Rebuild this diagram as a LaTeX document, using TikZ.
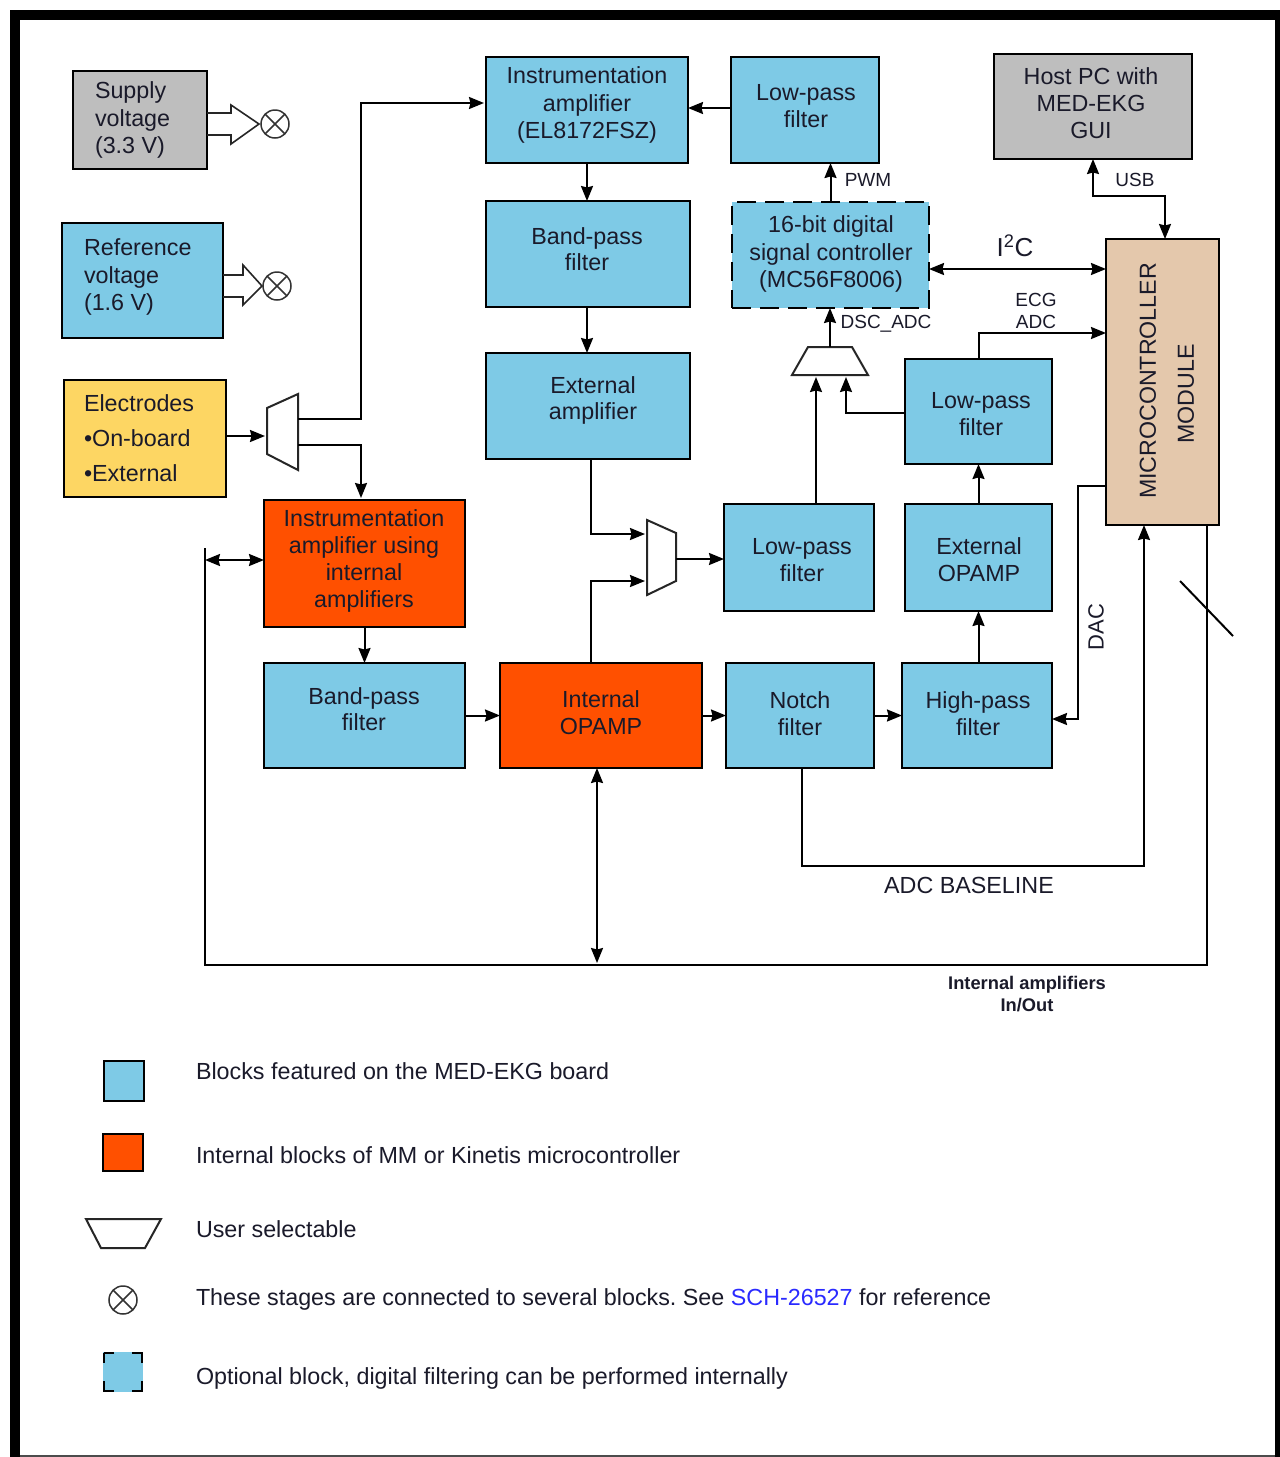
\documentclass[tikz,border=0pt]{standalone}
\usepackage{fontspec}
\setmainfont{Liberation Sans}
\usetikzlibrary{arrows.meta}
\frenchspacing
\definecolor{bblue}{HTML}{7ECAE6}
\definecolor{bgray}{HTML}{BEBEBE}
\definecolor{byellow}{HTML}{FDD663}
\definecolor{borange}{HTML}{FF5000}
\definecolor{btan}{HTML}{E4C8AC}
\definecolor{linkblue}{HTML}{2A2AFF}
\definecolor{tcol}{HTML}{1A1A2A}
\newcommand\blk[6]{%
  \pgfmathsetmacro\bw{#4-#2}\pgfmathsetmacro\bh{#5-#3}%
  \node[#6,minimum width=\bw pt,minimum height=\bh pt] (#1) at ({(#2+#4)/2},{(#3+#5)/2}) {};}
\newcommand\xring[2]{%
  \node[ringnode] (#1) at (#2) {};
  \draw[thinln] (#1.45) -- (#1.225) (#1.135) -- (#1.315);}
\tikzset{
  box/.style={rectangle,draw=black,line width=1.9pt,inner sep=0pt,outer sep=0pt},
  blue/.style={box,fill=bblue},
  gray/.style={box,fill=bgray},
  orange/.style={box,fill=borange},
  yellow/.style={box,fill=byellow},
  tan/.style={box,fill=btan},
  dashbox/.style={rectangle,draw=black,line width=2pt,fill=bblue,inner sep=0pt,outer sep=0pt,dash pattern=on 19pt off 9pt},
  txt/.style={inner sep=0pt,outer sep=0pt,text=tcol,align=center,font=\fontsize{23.3}{27.3}\selectfont},
  ltxt/.style={txt,align=left},
  small/.style={txt,font=\fontsize{19}{22}\selectfont},
  legend/.style={txt,anchor=west,align=left},
  arr/.style={line width=2pt,-{Stealth[length=15pt,width=12pt,inset=1.5pt]}},
  darr/.style={line width=2pt,{Stealth[length=15pt,width=12pt,inset=1.5pt]}-{Stealth[length=15pt,width=12pt,inset=1.5pt]}},
  ln/.style={line width=2pt},
  thinln/.style={line width=1.5pt,draw=black!80},
  mux/.style={line width=2pt,draw=black!85,fill=white,line join=miter},
  ringnode/.style={circle,draw=black!80,line width=1.5pt,minimum size=28pt,inner sep=0pt,outer sep=0pt,fill=white},
}
\begin{document}
\begin{tikzpicture}[x=1pt,y=-1pt]
\useasboundingbox (0,0) rectangle (1280,1457);
\fill[white] (0,0) rectangle (1280,1457);
% frame
\fill[black] (10,10) rectangle (1280,20);
\fill[black] (10,10) rectangle (20,1457);
\fill[black] (1275,10) rectangle (1280,1457);
\draw[black!70,line width=1.2pt] (20,1456) -- (1275,1456);
% blocks
\blk{supply}{73}{71}{207}{169}{gray}
\blk{refv}{62}{223}{223}{338}{blue}
\blk{elec}{64}{380}{226}{497}{yellow}
\blk{instr}{486}{57}{688}{163}{blue}
\blk{lptop}{731}{57}{879}{163}{blue}
\blk{host}{994}{54}{1192}{159}{gray}
\blk{bp}{486}{201}{690}{307}{blue}
\blk{dsc}{732}{202}{929}{308}{dashbox}
\blk{extamp}{486}{353}{690}{459}{blue}
\blk{micro}{1106}{239}{1219}{525}{tan}
\blk{lpr}{905}{359}{1052}{464}{blue}
\blk{iai}{264}{500}{465}{627}{orange}
\blk{lpmid}{724}{504}{874}{611}{blue}
\blk{extop}{905}{504}{1052}{611}{blue}
\blk{bplow}{264}{663}{465}{768}{blue}
\blk{iop}{500}{663}{702}{768}{orange}
\blk{notch}{726}{663}{874}{768}{blue}
\blk{hp}{902}{663}{1052}{768}{blue}
% muxes
\draw[mux] (267,408) -- (298,394) -- (298,470) -- (267,454) -- cycle;
\draw[mux] (647,520) -- (676,533) -- (676,581) -- (647,595) -- cycle;
\draw[mux] (808,347) -- (852,347) -- (868,375) -- (792,375) -- cycle;
% helper coordinates
\coordinate (m1i) at (265,436);
\coordinate (m1a) at (298,419);
\coordinate (m1b) at (298,445);
\coordinate (ia1) at (361,103);
\coordinate (ia2) at (361,419);
\coordinate (ia3) at (361,445);
\coordinate (ia4) at (361,498);
\coordinate (ia5) at (484,103);
\coordinate (m2a) at (645,534);
\coordinate (m2b) at (645,581);
\coordinate (m2o) at (676,559);
\coordinate (m3a) at (816,377);
\coordinate (m3b) at (846,377);
\coordinate (m3o) at (830,347);
\coordinate (i2cy) at (1000,269);
\coordinate (ecgy) at (1000,333);
\coordinate (usbc) at (1165,196);
\coordinate (dac1) at (1078,486);
\coordinate (dac2) at (1078,719);
\coordinate (bl) at (1144,866);
\coordinate (bus1) at (205,548);
\coordinate (bus2) at (205,965);
\coordinate (bus3) at (1207,965);
\coordinate (busT) at (205,560);
\coordinate (iob) at (597,963);
\coordinate (s1) at (1180,581);
\coordinate (s2) at (1233,636);
% connectors
\draw[arr] (m1i -| elec.east) -- (m1i);
\draw[arr] (m1a) -- (ia2) -- (ia1) -- (ia5);
\draw[arr] (m1b) -- (ia3) -- (ia4);
\draw[arr] ([yshift=2pt]lptop.west) -- ([yshift=2pt]instr.east);
\draw[arr] (instr.south) -- (instr.south |- bp.north);
\draw[arr] (bp.south -| instr.south) -- (instr.south |- extamp.north);
\draw[arr] ([xshift=3pt]extamp.south) |- (m2a);
\draw[arr] ([xshift=-10pt]iop.north) |- (m2b);
\draw[arr] (m2o) -- (m2o -| lpmid.west);
\draw[arr] ([xshift=17pt]lpmid.north) -- (m3a);
\draw[arr] ([yshift=-1.5pt]lpr.west) -| (m3b);
\draw[arr] (m3o) -- (m3o |- dsc.south);
\draw[arr] (dsc.north) -- (dsc.north |- lptop.south);
\draw[arr] (extop.north) -- (extop.north |- lpr.south);
\draw[arr] (extop.south |- hp.north) -- (extop.south);
\draw[arr] (lpr.north) |- (ecgy -| micro.west);
\draw[darr] (i2cy -| dsc.east) -- (i2cy -| micro.west);
\draw[darr] (host.south) |- (usbc) -- (usbc |- micro.north);
\draw[arr] (dac1 -| micro.west) -- (dac1) -- (dac2) -- (dac2 -| hp.east);
\draw[arr] ([xshift=2pt]notch.south) |- (bl) -- (bl |- micro.south);
\draw[arr] (bplow.east) -- (iop.west);
\draw[arr] (iop.east) -- (notch.west);
\draw[arr] (notch.east) -- (hp.west);
\draw[arr] (iai.south) -- (iai.south |- bplow.north);
\draw[ln] (bus1) -- (bus2) -- (bus3) -- (bus3 |- micro.south);
\draw[darr] (busT) -- (busT -| iai.west);
\draw[darr] (iob |- iop.south) -- (iob);
\draw[line width=2pt] (s1) -- (s2);
% hollow arrows and rings
\draw[line width=1.6pt,draw=black!85,line join=miter] (supply.east |- 0,113) -- (231,113) -- (231,105) -- (259,124) -- (231,144) -- (231,135) -- (supply.east |- 0,135);
\xring{r1}{275,124}
\draw[line width=1.6pt,draw=black!85,line join=miter] (refv.east |- 0,275) -- (243,275) -- (243,265) -- (262,286) -- (243,305) -- (243,297) -- (refv.east |- 0,297);
\xring{r2}{277,286}
% texts
\node[ltxt,anchor=west] (t1) at (95,120) {Supply\\voltage\\(3.3 V)};
\node[ltxt,anchor=west] (t2) at (84,277) {Reference\\voltage\\(1.6 V)};
\node[ltxt,anchor=west,font=\fontsize{23.3}{35}\selectfont] (t3) at (84,438.5) {Electrodes\\•On-board\\•External};
\node[txt] (t4) at (587,105) {Instrumentation\\amplifier\\(EL8172FSZ)};
\node[txt] (t5) at (806,106) {Low-pass\\filter};
\node[txt] (t6) at (1091,103) {Host PC with\\MED-EKG\\GUI};
\node[txt,font=\fontsize{23.3}{26}\selectfont] (t7) at (587,249) {Band-pass\\filter};
\node[txt] (t8) at (831,254) {16-bit digital\\signal controller\\(MC56F8006)};
\node[txt,font=\fontsize{23.3}{26}\selectfont] (t9) at (593,400) {External\\amplifier};
\node[txt] (t10) at (981,414) {Low-pass\\filter};
\node[txt] (t11) at (802,560) {Low-pass\\filter};
\node[txt] (t12) at (979,560) {External\\OPAMP};
\node[txt] (t13) at (364,561) {Instrumentation\\amplifier using\\internal\\amplifiers};
\node[txt,font=\fontsize{23.3}{26}\selectfont] (t14) at (364,709) {Band-pass\\filter};
\node[txt] (t15) at (601,713) {Internal\\OPAMP};
\node[txt] (t16) at (800,714) {Notch\\filter};
\node[txt] (t17) at (978,714) {High-pass\\filter};
\node[small] (t18) at (868,180) {PWM};
\node[small] (t19) at (1135,180) {USB};
\node[small] (t20) at (886,324) {DSC\_ADC};
\node[small] (t21) at (1036,311) {ECG\\ADC};
\node[txt,font=\fontsize{26}{30}\selectfont] (t22) at (1015,246) {I\textsuperscript{2}C};
\node[txt,rotate=90,font=\fontsize{23.2}{28}\selectfont] (t23) at (1148,381) {MICROCONTROLLER};
\node[txt,rotate=90,font=\fontsize{23.2}{28}\selectfont] (t24) at (1186,394) {MODULE};
\node[txt,rotate=90,font=\fontsize{22}{26}\selectfont] (t25) at (1096,627) {DAC};
\node[txt] (t26) at (969,885) {ADC BASELINE};
\node[txt,font=\bfseries\fontsize{18.3}{22}\selectfont] (t27) at (1027,994) {Internal amplifiers\\In/Out};
% legend
\blk{lg1}{104}{1061}{144}{1101}{blue}
\blk{lg2}{103}{1134}{143}{1171}{orange}
\draw[mux] (86,1219) -- (161,1219) -- (145,1248) -- (101,1248) -- cycle;
\xring{lg4}{123,1300}
\fill[bblue] (103,1352) rectangle (143,1392);
\draw[line width=2pt,dash pattern=on 20pt off 18pt,dash phase=10pt] (104,1353) rectangle (142,1391);
\node[legend] (l1) at (196,1071) {Blocks featured on the MED-EKG board};
\node[legend] (l2) at (196,1155) {Internal blocks of MM or Kinetis microcontroller};
\node[legend] (l3) at (196,1229) {User selectable};
\node[legend] (l4) at (196,1299) {These stages are connected to several blocks. See \textcolor{linkblue}{SCH-26527} for reference};
\node[legend] (l5) at (196,1378) {Optional block, digital filtering can be performed internally};
\end{tikzpicture}
\end{document}
